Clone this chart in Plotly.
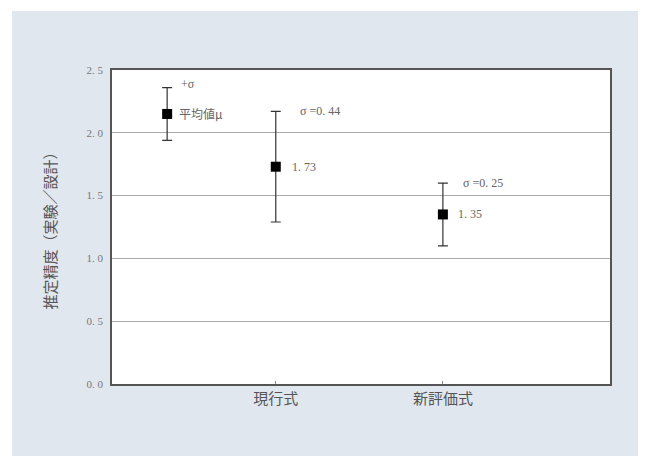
import plotly.graph_objects as go

# Data
categories = ["現行式", "新評価式"]
cat_pos = [1, 2]
means = [1.73, 1.35]
sigmas = [0.44, 0.25]
mean_labels = ["1. 73", "1. 35"]
sigma_labels = ["σ =0. 44", "σ =0. 25"]

legend_x = [0.35]
legend_mean = [2.15]
legend_sigma = [0.21]

yticks = [0.0, 0.5, 1.0, 1.5, 2.0, 2.5]
ytick_text = ["0. 0", "0. 5", "1. 0", "1. 5", "2. 0", "2. 5"]

txt = "#666666"
cjk = "Noto Sans CJK JP"
serif = "Liberation Serif"

fig = go.Figure()

fig.add_trace(go.Scatter(
    x=legend_x, y=legend_mean, mode="markers",
    marker=dict(symbol="square", size=10, color="black"),
    error_y=dict(type="data", array=legend_sigma, color="#333", thickness=1.2, width=5),
    showlegend=False, hoverinfo="skip"))

fig.add_trace(go.Scatter(
    x=cat_pos, y=means, mode="markers",
    marker=dict(symbol="square", size=10, color="black"),
    error_y=dict(type="data", array=sigmas, color="#333", thickness=1.2, width=5),
    showlegend=False))

annotations = []
annotations.append(dict(x=legend_x[0], y=legend_mean[0] + legend_sigma[0], text="+σ",
                        xshift=12, yshift=4, xanchor="left", yanchor="middle", showarrow=False,
                        font=dict(family=serif, size=12, color=txt)))
annotations.append(dict(x=legend_x[0], y=legend_mean[0], text="平均値μ",
                        xshift=10, xanchor="left", yanchor="middle", showarrow=False,
                        font=dict(family=cjk, size=12, color=txt)))
shifts_m = [14, 13]
shifts_s = [22, 18]
for xp, m, s, ml, sl, sm, ss in zip(cat_pos, means, sigmas, mean_labels, sigma_labels, shifts_m, shifts_s):
    annotations.append(dict(x=xp, y=m, text=ml, xshift=sm, xanchor="left", yanchor="middle",
                            showarrow=False, font=dict(family=serif, size=12, color=txt)))
    annotations.append(dict(x=xp, y=m + s, text=sl, xshift=ss, xanchor="left", yanchor="middle",
                            showarrow=False, font=dict(family=serif, size=12, color=txt)))

fig.update_layout(
    width=638, height=448,
    margin=dict(l=104, r=36, t=62, b=72),
    paper_bgcolor="white",
    plot_bgcolor="rgba(0,0,0,0)",
    annotations=annotations,
    shapes=[
        dict(type="rect", xref="paper", yref="paper", x0=-0.2008, x1=1.0643, y0=-0.3, y1=1.188,
             fillcolor="#e1e7ef", line=dict(width=0), layer="below"),
        dict(type="rect", xref="paper", yref="paper", x0=0, x1=1, y0=0, y1=1,
             fillcolor="white", line=dict(width=0), layer="below"),
    ],
    xaxis=dict(range=[0.02, 3.0], tickvals=cat_pos, ticktext=categories,
               showgrid=False, zeroline=False, showline=True, mirror=True,
               linecolor="#555", linewidth=1.5, ticks="inside", ticklen=3, tickcolor="#888",
               tickfont=dict(family=cjk, size=15, color="#555")),
    yaxis=dict(range=[0, 2.5], tickvals=yticks, ticktext=ytick_text,
               showgrid=True, gridcolor="#aaaaaa", gridwidth=1, zeroline=False,
               showline=True, mirror=True, linecolor="#555", linewidth=1.5,
               ticks="outside", ticklen=5, tickcolor="rgba(0,0,0,0)",
               tickfont=dict(family=serif, size=11, color="#777"),
               title=dict(text="推定精度（実験／設計）", standoff=26,
                          font=dict(family=cjk, size=15, color="#555"))),
)

fig.write_html("out.html")
